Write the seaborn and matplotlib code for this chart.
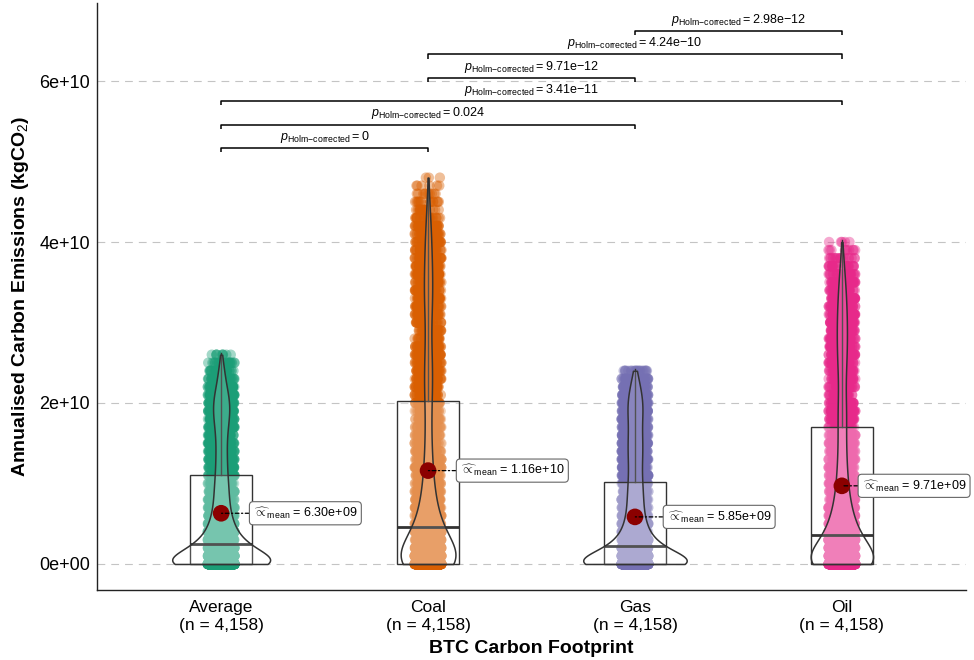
import numpy as np
import pandas as pd
import matplotlib
matplotlib.use("Agg")
import matplotlib.pyplot as plt
import seaborn as sns

# ---------------- data ----------------
categories = ["Average", "Coal", "Gas", "Oil"]
tick_labels = ["Average\n(n = 4,158)", "Coal\n(n = 4,158)",
               "Gas\n(n = 4,158)", "Oil\n(n = 4,158)"]
colors = ["#1B9E77", "#D95F02", "#7570B3", "#E7298A"]

level_step = 1e9  # emission levels are 0, 1e9, 2e9, ... kgCO2
# number of observations at each emission level (read from violins / point clouds)
average_counts = [1249, 416, 416, 229, 187, 146, 116, 100, 91, 87, 83, 73, 68, 68,
                  64, 64, 68, 77, 91, 100, 100, 86, 64, 46, 37, 23, 9]
coal_counts = [1000, 333, 291, 249, 208, 146, 125, 108, 91, 75, 67, 62, 54, 46, 42,
               42, 37, 37, 37, 37, 37, 49, 49, 49, 49, 46, 44, 39, 33, 33, 36, 41,
               46, 51, 51, 51, 49, 46, 44, 41, 39, 36, 31, 26, 21, 15, 10, 6, 3]
gas_counts = [1333, 416, 374, 208, 166, 133, 108, 100, 96, 91, 87, 79, 79, 83, 87,
              87, 83, 79, 83, 91, 91, 79, 62, 42, 21]
oil_counts = [1080, 312, 291, 249, 208, 154, 125, 112, 91, 79, 71, 62, 58, 54, 50,
              50, 46, 46, 55, 53, 48, 43, 40, 43, 48, 53, 58, 60, 60, 60, 60, 58,
              55, 50, 45, 40, 33, 25, 18, 10, 5]

# box statistics (kgCO2)
box_q1 = [0.0, 0.0, 0.0, 0.0]
box_median = [2.5e9, 4.6e9, 2.2e9, 3.6e9]
box_q3 = [1.10e10, 2.02e10, 1.02e10, 1.70e10]
box_max = [2.62e10, 4.80e10, 2.42e10, 4.03e10]
means = [6.30e9, 1.16e10, 5.85e9, 9.71e9]

# pairwise comparisons
comparisons = [("Average", "Coal"), ("Average", "Gas"), ("Average", "Oil"),
               ("Coal", "Gas"), ("Coal", "Oil"), ("Gas", "Oil")]
p_values = ["0", "0.024", "3.41e{-}11", "9.71e{-}12", "4.24e{-}10", "2.98e{-}12"]

y_ticks = [0, 2e10, 4e10, 6e10]
y_tick_labels = ["0e+00", "2e+10", "4e+10", "6e+10"]

# ---------------- style ----------------
plt.rcParams["font.family"] = ["Liberation Sans", "DejaVu Sans"]
plt.rcParams["mathtext.fontset"] = "custom"
plt.rcParams["mathtext.rm"] = "Liberation Sans"
plt.rcParams["mathtext.it"] = "Liberation Sans:italic"
plt.rcParams["mathtext.bf"] = "Liberation Sans:bold"

frames = []
for cat, counts in zip(categories, [average_counts, coal_counts, gas_counts, oil_counts]):
    vals = np.repeat(np.arange(len(counts)) * level_step, counts)
    frames.append(pd.DataFrame({"group": cat, "value": vals}))
df = pd.concat(frames, ignore_index=True)

fig = plt.figure(figsize=(9.74, 6.6), dpi=100)
ax = fig.add_axes([0.0996, 0.1061, 0.8922, 0.8894])

ax.set_axisbelow(True)
ax.yaxis.grid(True, linestyle=(0, (7, 5.4)), color="#C4C4C4", linewidth=0.8)
ax.xaxis.grid(False)

np.random.seed(3)
sns.stripplot(data=df, x="group", y="value", order=categories, hue="group",
              hue_order=categories, palette=colors, jitter=0.065, size=7.5,
              alpha=0.4, linewidth=0, legend=False, ax=ax, zorder=2)

stats = [dict(q1=a, med=b, q3=c, whislo=a, whishi=d, fliers=[])
         for a, b, c, d in zip(box_q1, box_median, box_q3, box_max)]
ax.bxp(stats, positions=range(len(categories)), widths=0.3, patch_artist=True,
       showcaps=False, showfliers=False, manage_ticks=False,
       boxprops=dict(facecolor=(1, 1, 1, 0.3), edgecolor="#333333", linewidth=1.0),
       medianprops=dict(color="#333333", linewidth=2.0),
       whiskerprops=dict(color="#333333", linewidth=1.0), zorder=3)

n_before = len(ax.collections)
sns.violinplot(data=df, x="group", y="value", order=categories, color="white",
               inner=None, width=0.5, density_norm="area", cut=0, bw_adjust=0.9,
               gridsize=500, linewidth=1.1, linecolor="#333333", ax=ax)
for coll in ax.collections[n_before:]:
    coll.set_facecolor((1, 1, 1, 0.15))
    coll.set_edgecolor("#333333")
    coll.set_linewidth(1.1)
    coll.set_zorder(4)

ax.scatter(range(len(categories)), means, s=12 ** 2, color="#8B0000",
           edgecolor="none", zorder=6)

label_dx_px = [32, 32, 32, 20]
for i, m in enumerate(means):
    ax.annotate(r"$\widehat{\propto}_{\mathrm{mean}}$" + f" = {m:.2e}",
                xy=(i, m), xytext=(label_dx_px[i], 0), textcoords="offset pixels",
                ha="left", va="center", fontsize=9, zorder=7,
                bbox=dict(boxstyle="round,pad=0.3,rounding_size=0.3", fc="white",
                          ec="#666666", lw=0.8),
                arrowprops=dict(arrowstyle="-", color="black", lw=0.9,
                                linestyle=(0, (3, 2, 1, 2)), shrinkA=0, shrinkB=0))

pos = {c: i for i, c in enumerate(categories)}
bracket_start, bracket_step, tick_len = 5.17e10, 0.29e10, 0.05e10
for k, ((a, b), p) in enumerate(zip(comparisons, p_values)):
    y = bracket_start + k * bracket_step
    x1, x2 = pos[a], pos[b]
    ax.plot([x1, x1, x2, x2], [y - tick_len, y, y, y - tick_len], color="black",
            lw=1.1, zorder=5, solid_capstyle="butt")
    ax.text((x1 + x2) / 2, y + 0.04e10,
            r"$p_{\mathrm{Holm{-}corrected}} = \mathrm{" + p + "}$",
            ha="center", va="bottom", fontsize=9, zorder=5)

ax.set_xlim(-0.6, 3.6)
ax.set_ylim(-0.323e10, 6.97e10)
ax.set_xticks(range(len(categories)))
ax.set_xticklabels(tick_labels, fontsize=12.5, linespacing=1.2)
ax.set_yticks(y_ticks)
ax.set_yticklabels(y_tick_labels, fontsize=13)
ax.tick_params(axis="both", length=0, colors="black")
ax.tick_params(axis="y", pad=5)
ax.tick_params(axis="x", pad=7.5)
for s in ["top", "right"]:
    ax.spines[s].set_visible(False)
for s in ["left", "bottom"]:
    ax.spines[s].set_color("#222222")
    ax.spines[s].set_linewidth(1.0)

ax.set_xlabel("BTC Carbon Footprint", fontsize=14, fontweight="bold", labelpad=5)
ax.set_ylabel(r"Annualised Carbon Emissions (kgCO$_2$)", fontsize=14,
              fontweight="bold", labelpad=6)

fig.savefig("out.png", dpi=100)
